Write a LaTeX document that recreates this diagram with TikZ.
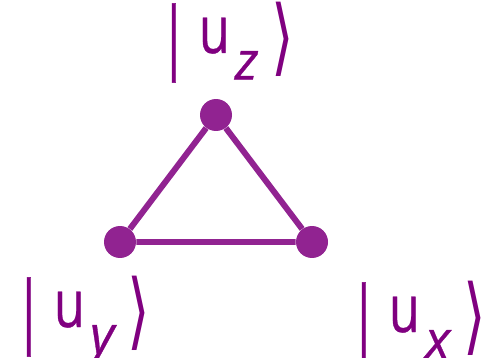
\documentclass[tikz,border=0pt]{standalone}
\usepackage{fontspec}
\setsansfont{Open Sans}[FakeBold=0.6]
\newfontfamily\angfont{DejaVu Sans}
\usepackage{tikz}
\usetikzlibrary{positioning}

\definecolor{ketpurple}{HTML}{800080}
\definecolor{dotpurple}{HTML}{912391}
\newcommand{\ketlbl}[1]{\raisebox{-0.2em}{\scalebox{1}[1.5]{|}}\hspace{0.2em}\scalebox{0.95}[1.25]{u}\hspace{0.1em}\raisebox{-0.5em}{\itshape #1}\hspace{0.25em}\raisebox{-0.24em}{\angfont\scalebox{1.1}[1.585]{⟩}}}

\begin{document}
\begin{tikzpicture}[x=0.02cm, y=-0.02cm,
    state/.style={circle, fill=dotpurple, inner sep=0pt, minimum size=0.64cm},
    ket/.style={text=ketpurple, font=\sffamily\fontsize{30}{36}\selectfont, inner sep=0pt, anchor=base west}]
  \useasboundingbox (0,0) rectangle (483,358);

  % States
  \node[state] (sz) at (216,115) {};
  \node[state] (sy) at (120,242) {};
  \node[state] (sx) at (312,242) {};

  % Edges
  \draw[dotpurple, line width=3.4pt] (sz) -- (sy) -- (sx) -- (sz);

  % Labels
  \node[ket] (lz) at (159,53) {\ketlbl{z}};
  \node[ket] (ly) at (14,327) {\ketlbl{y}};
  \node[ket] (lx) at (349,332) {\ketlbl{x}};
\end{tikzpicture}
\end{document}
